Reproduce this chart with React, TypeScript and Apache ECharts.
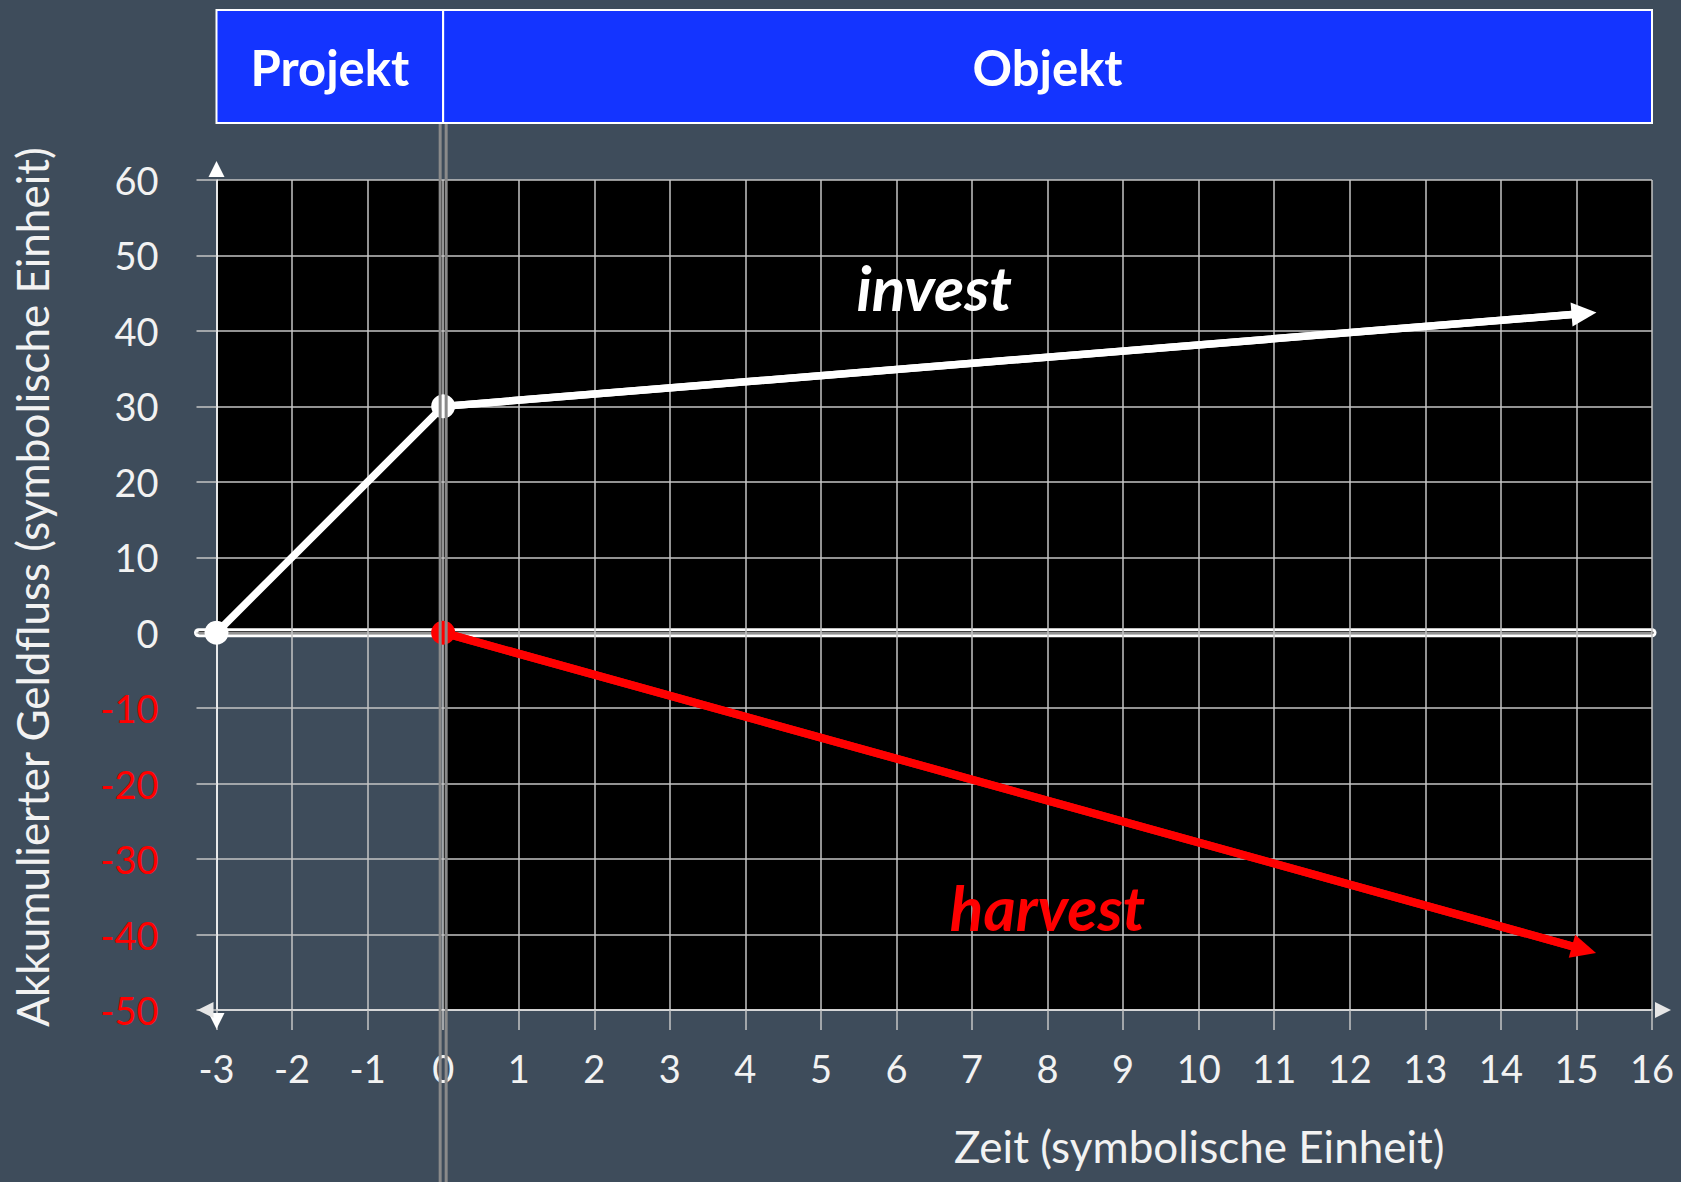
import React, { useEffect, useRef } from "react";
import * as echarts from "echarts";

// ---- axis ranges ----
const X_MIN = -3;
const X_MAX = 16;
const X_STEP = 1;
const Y_MIN = -50;
const Y_MAX = 60;
const Y_STEP = 10;

// ---- phases (header) ----
const phaseNames = ["Projekt", "Objekt"];
const phaseStart = [-3, 0];
const phaseEnd = [0, 16];

// ---- black plot regions ----
const regionX0 = [0, -3];
const regionY0 = [-50, 0];
const regionX1 = [16, 0];
const regionY1 = [60, 60];

// ---- series ----
const investX = [-3, 0, 15.1];
const investY = [0, 30, 42.3];
const harvestX = [0, 15.1];
const harvestY = [0, -42.0];

// ---- annotations ----
const seriesLabels = ["invest", "harvest"];
const seriesLabelX = [6.5, 8.0];
const seriesLabelY = [45.8, -36.3];

const xAxisName = "Zeit (symbolische Einheit)";
const yAxisName = "Akkumulierter Geldfluss (symbolische Einheit)";

// ---- style ----
const BG = "#3e4c5b";
const GRID_COLOR = "#c4c4c4";
const LABEL_COLOR = "#f2f2f2";
const RED = "#ff0000";
const BLUE = "#1434ff";
const FONT = "Lato, 'Open Sans', sans-serif";
const W = 1681;
const H = 1182;
const HEADER_TOP = 10;
const HEADER_HEIGHT = 113;

export default function App() {
  const ref = useRef<HTMLDivElement>(null);

  useEffect(() => {
    if (!ref.current) return;
    const chart = echarts.init(ref.current, null, { renderer: "svg" });

    const lastInvest = investX.length - 1;
    const lastHarvest = harvestX.length - 1;

    const option: any = {
      animation: false,
      backgroundColor: BG,
      grid: [
        { left: 216.5, right: 29, top: 180, bottom: 172 },
        { left: 216.5, right: 29, top: HEADER_TOP, height: HEADER_HEIGHT },
      ],
      xAxis: [
        {
          type: "value",
          gridIndex: 0,
          min: X_MIN,
          max: X_MAX,
          interval: X_STEP,
          z: 3,
          axisLine: {
            show: true,
            onZero: false,
            lineStyle: { color: "#e6e6e6", width: 1.5 },
            symbol: ["triangle", "triangle"],
            symbolSize: [16, 16],
            symbolOffset: [-11, 11],
          },
          axisTick: { show: true, length: 20, lineStyle: { color: GRID_COLOR, width: 1.5 } },
          axisLabel: { margin: 39, fontSize: 38, color: LABEL_COLOR, fontFamily: FONT },
          splitLine: { show: true, lineStyle: { color: GRID_COLOR, width: 1.5 } },
          name: xAxisName,
          nameLocation: "middle",
          nameGap: 114,
          nameTextStyle: {
            fontSize: 44,
            color: LABEL_COLOR,
            fontFamily: FONT,
            padding: [0, 0, 0, 530],
          },
        },
        { type: "value", gridIndex: 1, min: X_MIN, max: X_MAX, show: false },
      ],
      yAxis: [
        {
          type: "value",
          gridIndex: 0,
          min: Y_MIN,
          max: Y_MAX,
          interval: Y_STEP,
          z: 3,
          axisLine: {
            show: true,
            onZero: false,
            lineStyle: { color: "#ffffff", width: 1.5 },
            symbol: ["triangle", "triangle"],
            symbolSize: [16, 16],
            symbolOffset: [-11, 11],
          },
          axisTick: { show: true, length: 20, lineStyle: { color: GRID_COLOR, width: 1.5 } },
          axisLabel: {
            margin: 58,
            fontSize: 38,
            fontFamily: FONT,
            color: (v: any) => (Number(v) < 0 ? RED : LABEL_COLOR),
          },
          splitLine: { show: true, lineStyle: { color: GRID_COLOR, width: 1.5 } },
          name: yAxisName,
          nameLocation: "middle",
          nameGap: 163,
          nameTextStyle: {
            fontSize: 44,
            color: LABEL_COLOR,
            fontFamily: FONT,
            padding: [0, 0, 0, 16],
          },
        },
        { type: "value", gridIndex: 1, min: 0, max: 1, show: false },
      ],
      series: [
        // black plot background regions
        {
          type: "custom",
          name: "bg",
          xAxisIndex: 0,
          yAxisIndex: 0,
          z: 1,
          silent: true,
          clip: false,
          data: regionX0.map((x0, i) => [x0, regionY0[i], regionX1[i], regionY1[i]]),
          encode: { x: [0, 2], y: [1, 3] },
          renderItem: (params: any, api: any) => {
            const p0 = api.coord([api.value(0), api.value(3)]);
            const p1 = api.coord([api.value(2), api.value(1)]);
            return {
              type: "rect",
              shape: { x: p0[0], y: p0[1], width: p1[0] - p0[0], height: p1[1] - p0[1] },
              style: { fill: "#000000" },
            };
          },
        },
        // zero line (double white)
        {
          type: "custom",
          name: "zero",
          xAxisIndex: 0,
          yAxisIndex: 0,
          z: 2,
          silent: true,
          clip: false,
          data: [[X_MIN, 0, X_MAX]],
          encode: { x: [0, 2], y: 1 },
          renderItem: (params: any, api: any) => {
            const p0 = api.coord([api.value(0), api.value(1)]);
            const p1 = api.coord([api.value(2), api.value(1)]);
            return {
              type: "group",
              children: [
                {
                  type: "line",
                  shape: { x1: p0[0] - 18, y1: p0[1], x2: p1[0], y2: p1[1] },
                  style: { stroke: "#ffffff", lineWidth: 9, lineCap: "round" },
                },
                {
                  type: "line",
                  shape: { x1: p0[0] - 17, y1: p0[1], x2: p1[0], y2: p1[1] },
                  style: { stroke: "#000000", lineWidth: 3, lineCap: "round" },
                },
              ],
            };
          },
        },
        // invest
        {
          type: "line",
          name: "invest",
          xAxisIndex: 0,
          yAxisIndex: 0,
          z: 10,
          clip: false,
          showAllSymbol: true,
          symbolSize: 24,
          lineStyle: { color: "#ffffff", width: 7.5 },
          itemStyle: { color: "#ffffff" },
          data: investX.map((x, i) => ({
            value: [x, investY[i]],
            symbol: i === lastInvest ? "none" : "circle",
          })),
          markLine: {
            silent: true,
            animation: false,
            symbol: ["none", "none"],
            lineStyle: { color: "#ffffff", width: 7.5, type: "solid" },
            label: { show: false },
            data: [
              [
                { coord: [investX[lastInvest - 1], investY[lastInvest - 1]] },
                { coord: [investX[lastInvest], investY[lastInvest]], symbol: "triangle", symbolSize: [24, 25] },
              ],
            ],
          },
          markPoint: {
            silent: true,
            symbol: "rect",
            symbolSize: 1,
            itemStyle: { color: "rgba(0,0,0,0)" },
            label: {
              show: true,
              position: "inside",
              formatter: seriesLabels[0],
              fontSize: 62,
              fontWeight: "bold",
              fontStyle: "italic",
              fontFamily: FONT,
              color: "#ffffff",
            },
            data: [{ coord: [seriesLabelX[0], seriesLabelY[0]] }],
          },
        },
        // harvest
        {
          type: "line",
          name: "harvest",
          xAxisIndex: 0,
          yAxisIndex: 0,
          z: 10,
          clip: false,
          showAllSymbol: true,
          symbolSize: 24,
          lineStyle: { color: RED, width: 8 },
          itemStyle: { color: RED },
          data: harvestX.map((x, i) => ({
            value: [x, harvestY[i]],
            symbol: i === lastHarvest ? "none" : "circle",
          })),
          markLine: {
            silent: true,
            animation: false,
            symbol: ["none", "none"],
            lineStyle: { color: RED, width: 8, type: "solid" },
            label: { show: false },
            data: [
              [
                { coord: [harvestX[lastHarvest - 1], harvestY[lastHarvest - 1]] },
                { coord: [harvestX[lastHarvest], harvestY[lastHarvest]], symbol: "triangle", symbolSize: [24, 25] },
              ],
            ],
          },
          markPoint: {
            silent: true,
            symbol: "rect",
            symbolSize: 1,
            itemStyle: { color: "rgba(0,0,0,0)" },
            label: {
              show: true,
              position: "inside",
              formatter: seriesLabels[1],
              fontSize: 62,
              fontWeight: "bold",
              fontStyle: "italic",
              fontFamily: FONT,
              color: RED,
            },
            data: [{ coord: [seriesLabelX[1], seriesLabelY[1]] }],
          },
        },
        // phase boundary: vertical grey double line
        {
          type: "custom",
          name: "boundary",
          xAxisIndex: 0,
          yAxisIndex: 0,
          z: 20,
          silent: true,
          clip: false,
          data: [[phaseEnd[0], Y_MIN]],
          encode: { x: 0, y: 1 },
          renderItem: (params: any, api: any) => {
            const p = api.coord([api.value(0), Y_MAX]);
            const top = HEADER_TOP + HEADER_HEIGHT + 1;
            const bottom = api.getHeight();
            return {
              type: "group",
              children: [-3, 3].map((dx) => ({
                type: "line",
                shape: { x1: p[0] + dx, y1: top, x2: p[0] + dx, y2: bottom },
                style: { stroke: "#8a8a8a", lineWidth: 3 },
              })),
            };
          },
        },
        // header phases
        {
          type: "custom",
          name: "phases",
          xAxisIndex: 1,
          yAxisIndex: 1,
          z: 5,
          silent: true,
          clip: false,
          data: phaseNames.map((n, i) => [phaseStart[i], 0, phaseEnd[i], 1]),
          encode: { x: [0, 2], y: [1, 3] },
          renderItem: (params: any, api: any) => {
            const p0 = api.coord([api.value(0), api.value(3)]);
            const p1 = api.coord([api.value(2), api.value(1)]);
            return {
              type: "group",
              children: [
                {
                  type: "rect",
                  shape: { x: p0[0], y: p0[1], width: p1[0] - p0[0], height: p1[1] - p0[1] },
                  style: { fill: BLUE, stroke: "#ffffff", lineWidth: 2 },
                },
                {
                  type: "text",
                  x: (p0[0] + p1[0]) / 2,
                  y: (p0[1] + p1[1]) / 2,
                  style: {
                    text: phaseNames[params.dataIndex],
                    fill: "#ffffff",
                    fontSize: 49,
                    fontWeight: "bold",
                    fontFamily: FONT,
                    align: "center",
                    verticalAlign: "middle",
                  },
                },
              ],
            };
          },
        },
      ],
    };

    chart.setOption(option);
    return () => chart.dispose();
  }, []);

  return (
    <div
      ref={ref}
      style={{ position: "absolute", left: 0, top: 0, width: W, height: H }}
    />
  );
}
